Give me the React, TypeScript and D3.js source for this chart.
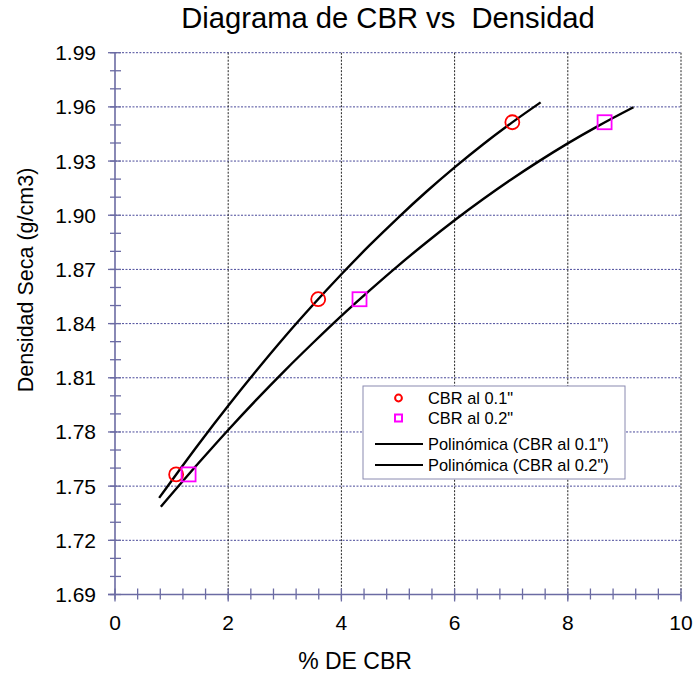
import React from "react";
import * as d3 from "d3";

const densidad = [1.7565, 1.8535, 1.9515];
const cbr01 = [1.08, 3.59, 7.02];
const cbr02 = [1.3, 4.32, 8.65];

// trendline points
const trend01X = [0.78, 1.5, 2.0, 2.5, 3.0, 3.5, 4.0, 4.5, 5.0, 5.5, 6.0, 6.5, 7.0, 7.52];
const trend01Y = [1.7435, 1.7742, 1.7945, 1.814, 1.8327, 1.8504, 1.8673, 1.8834, 1.8986, 1.913, 1.9265, 1.9392, 1.951, 1.9625];
const trend02X = [0.81, 1.5, 2.0, 2.5, 3.0, 3.5, 4.0, 4.5, 5.0, 5.5, 6.0, 6.5, 7.0, 7.5, 8.0, 8.5, 9.16];
const trend02Y = [1.7386, 1.7636, 1.7811, 1.7979, 1.814, 1.8294, 1.8443, 1.8584, 1.872, 1.8849, 1.8972, 1.9088, 1.9198, 1.9301, 1.9398, 1.9488, 1.9598];

const xTicks = [0, 2, 4, 6, 8, 10];
const yTicks = [1.69, 1.72, 1.75, 1.78, 1.81, 1.84, 1.87, 1.90, 1.93, 1.96, 1.99];

const titleText = "Diagrama de CBR vs  Densidad";
const xTitle = "% DE CBR";
const yTitle = "Densidad Seca (g/cm3)";
const legendLabels = ['CBR al 0.1"', 'CBR al 0.2"', 'Polinómica (CBR al 0.1")', 'Polinómica (CBR al 0.2")'];

const W = 693, H = 677;
const FONT = "'Liberation Sans', Arial, sans-serif";
const AXIS = "#6b6ba3";

export default function App() {
  const x = d3.scaleLinear().domain([0, 10]).range([115, 681]);
  const y = d3.scaleLinear().domain([1.69, 1.99]).range([594.5, 52.7]);

  const line = d3.line<[number, number]>()
    .x(d => x(d[0]))
    .y(d => y(d[1]))
    .curve(d3.curveMonotoneX);

  const t1 = trend01X.map((v, i) => [v, trend01Y[i]] as [number, number]);
  const t2 = trend02X.map((v, i) => [v, trend02Y[i]] as [number, number]);

  const minorX = d3.range(0, 10.001, 0.4).map(v => +v.toFixed(2));
  const minorY = d3.range(0, 31).map(i => +(1.69 + i * 0.01).toFixed(2));

  const x0 = x(0), yb = y(1.69);

  const lg = { x: 363, y: 386, w: 262, h: 93 };
  const rows = [398, 418, 444, 465];

  return (
    <svg width={W} height={H} style={{ position: "absolute", left: 0, top: 0, background: "#fff" }} fontFamily={FONT}>
      <rect x={0} y={0} width={W} height={H} fill="#fff" />
      {/* horizontal gridlines */}
      {yTicks.slice(1).map(t => (
        <line key={"hg" + t} x1={x0} x2={x(10)} y1={y(t)} y2={y(t)} stroke="#4a4a9a" strokeWidth={1} strokeDasharray="2,1.5" />
      ))}
      {/* vertical gridlines */}
      {xTicks.slice(1).map(t => (
        <line key={"vg" + t} x1={x(t)} x2={x(t)} y1={y(1.99)} y2={yb} stroke="#222" strokeWidth={1} strokeDasharray="2,1.5" />
      ))}
      {/* y minor ticks */}
      {minorY.map(t => (
        <line key={"my" + t} x1={x0 - 5} x2={x0 + 6} y1={y(t)} y2={y(t)} stroke={AXIS} strokeWidth={1.3} />
      ))}
      {yTicks.map(t => (
        <line key={"My" + t} x1={x0 - 7} x2={x0} y1={y(t)} y2={y(t)} stroke={AXIS} strokeWidth={1.3} />
      ))}
      {/* x minor ticks */}
      {minorX.map(t => (
        <line key={"mx" + t} x1={x(t)} x2={x(t)} y1={yb - 6} y2={yb + 5} stroke={AXIS} strokeWidth={1.3} />
      ))}
      {xTicks.map(t => (
        <line key={"Mx" + t} x1={x(t)} x2={x(t)} y1={yb} y2={yb + 7} stroke={AXIS} strokeWidth={1.3} />
      ))}
      {/* axes */}
      <line x1={x0} x2={x0} y1={y(1.99)} y2={yb} stroke={AXIS} strokeWidth={1.6} />
      <line x1={x0 - 7} x2={x(10)} y1={yb} y2={yb} stroke={AXIS} strokeWidth={1.6} />
      {/* tick labels */}
      {yTicks.map(t => (
        <text key={"yl" + t} x={96} y={y(t) + 7.5} textAnchor="end" fontSize={21} fill="#000">{t.toFixed(2)}</text>
      ))}
      {xTicks.map(t => (
        <text key={"xl" + t} x={x(t)} y={630} textAnchor="middle" fontSize={21} fill="#000">{t}</text>
      ))}
      {/* trendlines */}
      <path d={line(t1) || ""} fill="none" stroke="#000" strokeWidth={2.4} />
      <path d={line(t2) || ""} fill="none" stroke="#000" strokeWidth={2.4} />
      {/* markers */}
      {cbr01.map((v, i) => (
        <circle key={"c" + i} cx={x(v)} cy={y(densidad[i])} r={7} fill="none" stroke="#ff0000" strokeWidth={1.8} />
      ))}
      {cbr02.map((v, i) => (
        <rect key={"s" + i} x={x(v) - 7} y={y(densidad[i]) - 7} width={14} height={14} fill="none" stroke="#ff00ff" strokeWidth={1.8} />
      ))}
      {/* legend */}
      <rect x={lg.x} y={lg.y} width={lg.w} height={lg.h} fill="#fff" stroke="#8a8ab0" strokeWidth={1} />
      <circle cx={398.5} cy={rows[0]} r={3.4} fill="none" stroke="#ff0000" strokeWidth={2} />
      <rect x={395} y={rows[1] - 3.5} width={7} height={7} fill="none" stroke="#ff00ff" strokeWidth={2} />
      <line x1={375} x2={423} y1={rows[2]} y2={rows[2]} stroke="#000" strokeWidth={2.2} />
      <line x1={375} x2={423} y1={rows[3]} y2={rows[3]} stroke="#000" strokeWidth={2.2} />
      {legendLabels.map((l, i) => (
        <text key={"lg" + i} x={428} y={rows[i] + 5.8} fontSize={16.4} fill="#000">{l}</text>
      ))}
      {/* titles */}
      <text x={388} y={28} textAnchor="middle" fontSize={29.2} fill="#000" style={{ whiteSpace: "pre" }}>{titleText}</text>
      <text x={355} y={669} textAnchor="middle" fontSize={23} fill="#000">{xTitle}</text>
      <text transform="translate(33,280) rotate(-90)" textAnchor="middle" fontSize={21.5} fill="#000">{yTitle}</text>
    </svg>
  );
}
